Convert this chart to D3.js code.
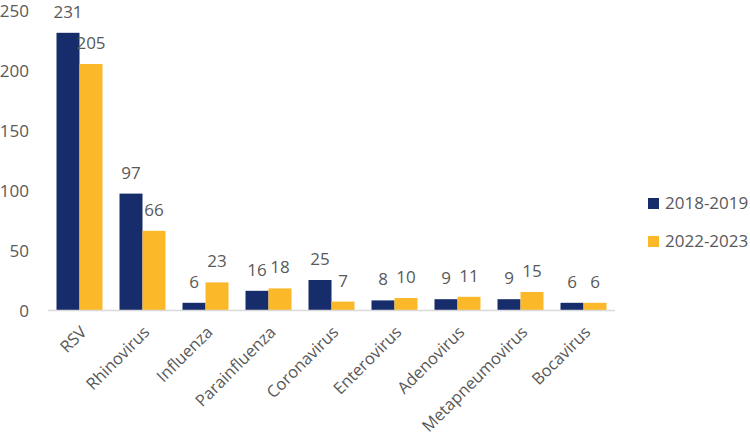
<!DOCTYPE html>
<html><head><meta charset="utf-8">
<script src="https://cdn.jsdelivr.net/npm/d3@7"></script>
<style>body{margin:0;background:#fff}text{font-family:"Open Sans",sans-serif;fill:#595959}</style>
</head><body><svg id="c" width="750" height="439"></svg>
<script>
const categories = ["RSV","Rhinovirus","Influenza","Parainfluenza","Coronavirus","Enterovirus","Adenovirus","Metapneumovirus","Bocavirus"];
const seriesNames = ["2018-2019","2022-2023"];
const values2018 = [231,97,6,16,25,8,9,9,6];
const values2022 = [205,66,23,18,7,10,11,15,6];
const yTicks = [0,50,100,150,200,250];
const colors = ["#172D6B","#FBB92A"];

const svg = d3.select("#c");
const x = d3.scaleBand().domain(categories).range([48,615]).paddingInner(0.27).paddingOuter(0.135);
const y = d3.scaleLinear().domain([0,250]).range([310,10]);
const xs = d3.scaleBand().domain(seriesNames).range([0,x.bandwidth()]);
const fs = 17;

// y labels
svg.append("g").selectAll("text").data(yTicks).join("text")
  .attr("x",29).attr("y",d=>y(d)).attr("dy","0.4em").attr("text-anchor","end")
  .attr("font-size",fs).text(d=>d);

const data = [values2018, values2022];
data.forEach((vals,si)=>{
  const g = svg.append("g");
  g.selectAll("rect").data(categories).join("rect")
    .attr("x",c=>x(c)+xs(seriesNames[si])).attr("width",xs.bandwidth())
    .attr("y",(c,i)=>y(vals[i])).attr("height",(c,i)=>y(0)-y(vals[i]))
    .attr("fill",colors[si]);
  g.selectAll("text").data(categories).join("text")
    .attr("x",c=>x(c)+xs(seriesNames[si])+xs.bandwidth()/2)
    .attr("y",(c,i)=>y(vals[i])-15).attr("text-anchor","middle")
    .attr("font-size",fs).text((c,i)=>vals[i]);
});

// axis line
svg.append("line").attr("x1",48).attr("x2",615).attr("y1",y(0)+0.5).attr("y2",y(0)+0.5)
  .attr("stroke","#D9D9D9").attr("stroke-width",1.5);

// x labels
svg.append("g").selectAll("text").data(categories).join("text")
  .attr("transform",c=>`translate(${x(c)+x.bandwidth()/2},${325}) rotate(-45)`)
  .attr("text-anchor","end").attr("dy","0.7em").attr("font-size",16.5).text(c=>c);

// legend
const lg = svg.append("g").selectAll("g").data(seriesNames).join("g")
  .attr("transform",(d,i)=>`translate(648,${198+i*38})`);
lg.append("rect").attr("width",11).attr("height",11).attr("fill",(d,i)=>colors[i]);
lg.append("text").attr("x",17).attr("y",5.5).attr("dy","0.35em").attr("font-size",fs).text(d=>d);
</script></body></html>
